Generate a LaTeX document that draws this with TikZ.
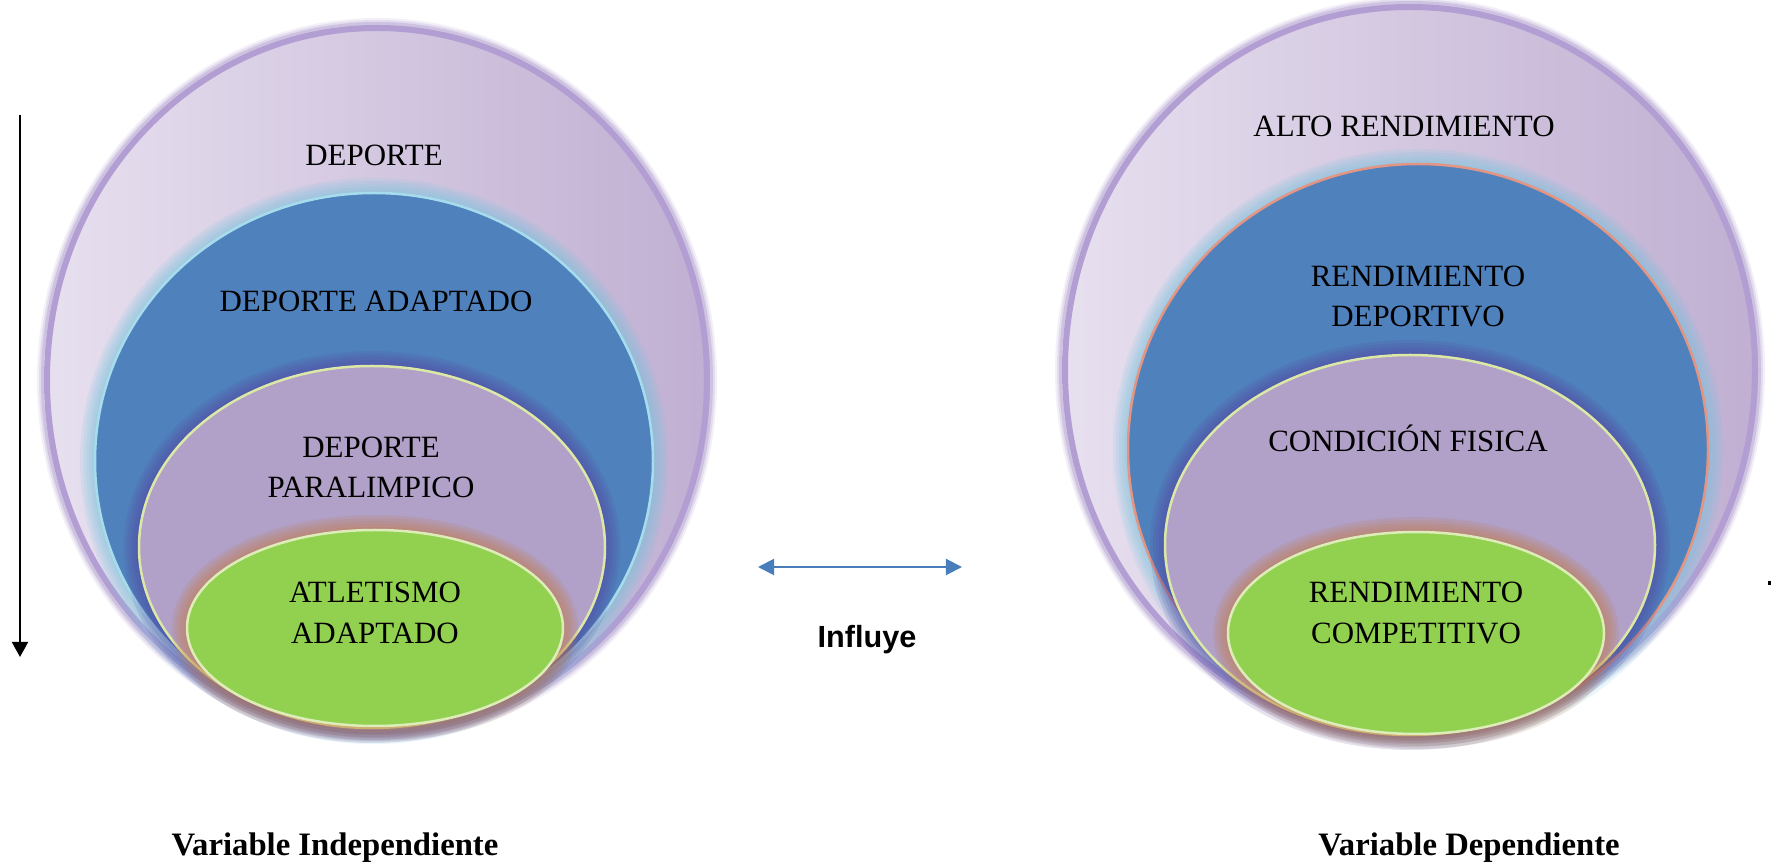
\documentclass[tikz,border=0pt]{standalone}
\usepackage{fontspec}
\setmainfont{Liberation Serif}
\newfontfamily\labelsans{Liberation Sans}
\usetikzlibrary{arrows.meta}
\definecolor{outerL}{HTML}{E7E0EF}
\definecolor{outerR}{HTML}{C0AFD2}
\definecolor{outerLine}{HTML}{B29ED3}
\definecolor{outerGlow}{HTML}{9E86C6}
\definecolor{blueFill}{HTML}{4F81BD}
\definecolor{blueGlow}{HTML}{78C3DD}
\definecolor{blueLineA}{HTML}{A6DCEC}
\definecolor{blueLineB}{HTML}{E39482}
\definecolor{paraFill}{HTML}{B1A0C7}
\definecolor{paraGlow}{HTML}{5646A0}
\definecolor{paraLine}{HTML}{DCE8A6}
\definecolor{greenFill}{HTML}{92D050}
\definecolor{greenGlow}{HTML}{C47A45}
\definecolor{greenLine}{HTML}{DDEDB9}
\definecolor{arrowBlue}{HTML}{4A7EBB}
\newcommand\glowring[5]{% center, rx, ry, colour, opacity
  \foreach \w in {30,24,18,12,6}{%
    \draw[#4, opacity=#5, line width=\w*0.01cm] #1 ellipse[x radius=#2, y radius=#3];
  }}
\newcommand\layer[7]{% center, rx, ry, fill, glow, line, line width(px)
  \glowring{#1}{#2}{#3}{#5}{0.15}
  \fill[#4] #1 ellipse[x radius=#2, y radius=#3];
  \draw[#6, line width=#7*0.01cm] #1 ellipse[x radius=#2, y radius=#3];
}
\tikzset{
  lbl/.style={font=\fontsize{8.8}{11.6}\selectfont, align=center, inner sep=0pt, anchor=base},
  varlbl/.style={font=\fontsize{9.3}{11}\selectfont\bfseries, inner sep=0pt, anchor=base},
  inflbl/.style={font=\labelsans\fontsize{8.7}{10}\selectfont\bfseries, inner sep=0pt, anchor=base},
  bluearrow/.style={arrowBlue, line width=0.02cm, {Triangle[length=0.16cm,width=0.16cm]}-{Triangle[length=0.16cm,width=0.16cm]}},
  blackarrow/.style={black, line width=0.02cm, -{Triangle[length=0.15cm,width=0.16cm]}}
}
\begin{document}
\begin{tikzpicture}[x=0.01cm,y=-0.01cm]
\useasboundingbox[fill=white] (0,0) rectangle (1772,864);

% ---------- left group ----------
\foreach \w/\o in {14/0.12,10/0.18,6/0.3}{
  \draw[outerGlow, opacity=\o, line width=\w*0.01cm] (377,380) ellipse[x radius=333, y radius=355];}
\shade[left color=outerL, right color=outerR] (377,380) ellipse[x radius=333, y radius=355];
\draw[outerLine, line width=0.06cm] (377,380) ellipse[x radius=330, y radius=352];
\layer{(374,461)}{279}{268}{blueFill}{blueGlow}{blueLineA}{2.5}
\layer{(372,547)}{233}{181}{paraFill}{paraGlow}{paraLine}{2.5}
\layer{(375,628)}{188}{98}{greenFill}{greenGlow}{greenLine}{2.5}

\node[lbl] (dep) at (374,166) {DEPORTE};
\node[lbl] (depad) at (376,312) {DEPORTE ADAPTADO};
\node[lbl] (para) at (371,498) {DEPORTE\\PARALIMPICO};
\node[lbl] (atl) at (375,643) {ATLETISMO\\ADAPTADO};

% ---------- right group ----------
\foreach \w/\o in {14/0.12,10/0.18,6/0.3}{
  \draw[outerGlow, opacity=\o, line width=\w*0.01cm] (1410,370) ellipse[x radius=348, y radius=366];}
\shade[left color=outerL, right color=outerR] (1410,370) ellipse[x radius=348, y radius=366];
\draw[outerLine, line width=0.06cm] (1410,370) ellipse[x radius=345, y radius=363];
\layer{(1418,449)}{290}{285}{blueFill}{blueGlow}{blueLineB}{2.5}
\layer{(1410,545)}{245}{190}{paraFill}{paraGlow}{paraLine}{2.5}
\layer{(1416,633)}{188}{101}{greenFill}{greenGlow}{greenLine}{2.5}

\node[lbl] (alto) at (1404,137) {ALTO RENDIMIENTO};
\node[lbl] (rdep) at (1418,327) {RENDIMIENTO\\DEPORTIVO};
\node[lbl] (cond) at (1408,452) {CONDICIÓN FISICA};
\node[lbl] (rcomp) at (1416,643) {RENDIMIENTO\\COMPETITIVO};

% ---------- middle ----------
\coordinate (aL) at (758,567);
\coordinate (aR) at (962,567);
\draw[bluearrow] (aL) -- (aR);
\node[inflbl] (infl) at (867,647) {Influye};

% ---------- left arrow ----------
\coordinate (vTop) at (20,115);
\coordinate (vBot) at (20,657);
\draw[blackarrow] (vTop) -- (vBot);

% small mark at right edge
\fill[black] (1768,581) rectangle (1771,585);

% ---------- captions ----------
\node[varlbl] (vi) at (335,855) {Variable Independiente};
\node[varlbl] (vd) at (1469,855) {Variable Dependiente};
\end{tikzpicture}
\end{document}
